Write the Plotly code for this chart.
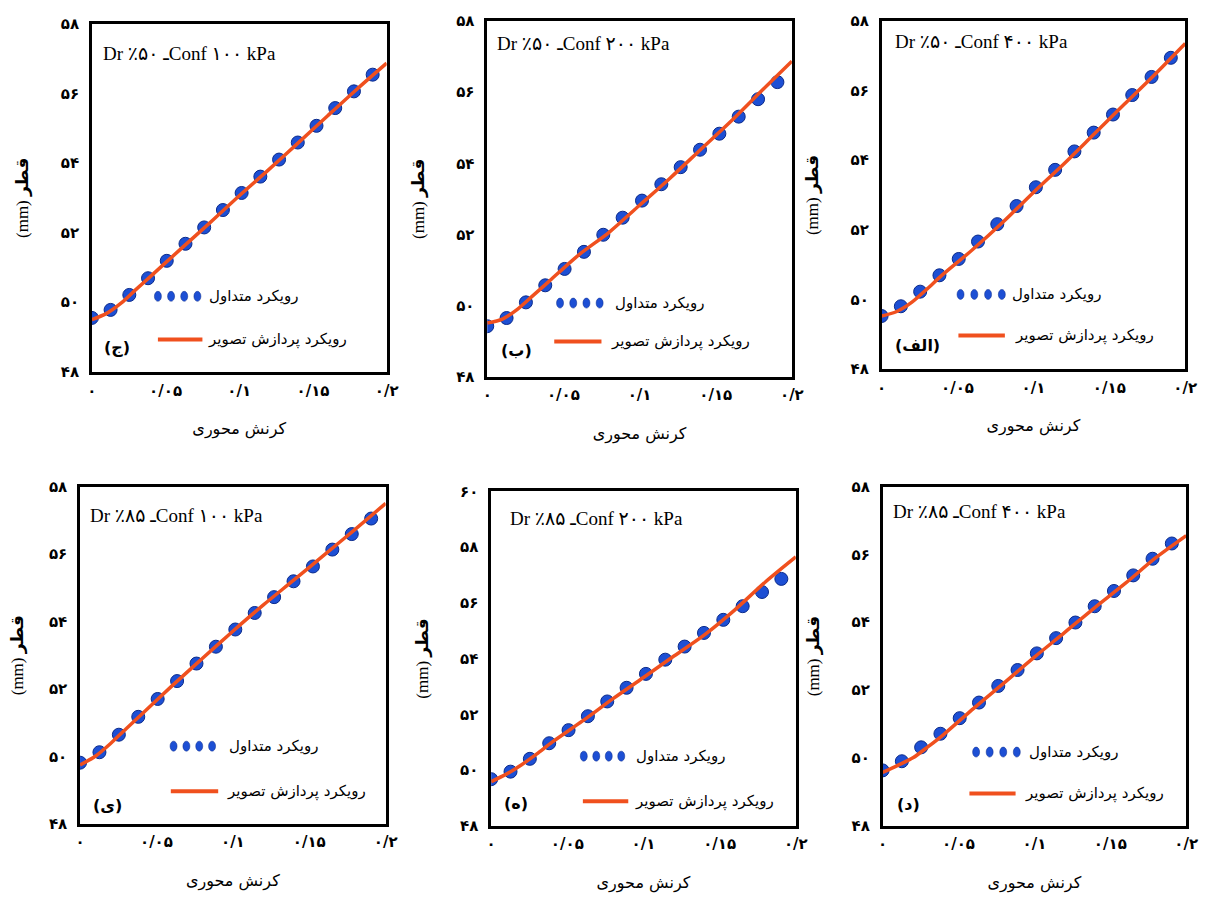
import plotly.graph_objects as go

# ---------------- data ----------------
strain = [0.0, 0.0127, 0.0254, 0.0381, 0.0508, 0.0635, 0.0762, 0.0889,
          0.1016, 0.1143, 0.1270, 0.1397, 0.1524, 0.1651, 0.1778, 0.1905]
line_strain = [0.0, 0.01, 0.02, 0.03, 0.04, 0.06, 0.08, 0.10, 0.12, 0.14, 0.16, 0.18, 0.20]

conv_50_100 = [49.55, 49.78, 50.21, 50.69, 51.19, 51.68, 52.15, 52.65, 53.14, 53.61, 54.10, 54.59, 55.07, 55.58, 56.06, 56.54]
img_50_100 = [49.50, 49.68, 49.98, 50.37, 50.75, 51.52, 52.28, 53.06, 53.81, 54.58, 55.36, 56.13, 56.87]

conv_50_200 = [49.42, 49.65, 50.09, 50.57, 51.03, 51.51, 51.99, 52.47, 52.95, 53.41, 53.89, 54.38, 54.83, 55.31, 55.80, 56.28]
img_50_200 = [49.51, 49.62, 49.90, 50.28, 50.66, 51.42, 52.06, 52.82, 53.58, 54.38, 55.18, 56.03, 56.87]

conv_50_400 = [49.52, 49.80, 50.22, 50.69, 51.16, 51.66, 52.16, 52.68, 53.22, 53.72, 54.25, 54.79, 55.31, 55.87, 56.39, 56.94]
img_50_400 = [49.52, 49.65, 49.92, 50.30, 50.70, 51.43, 52.22, 53.07, 53.89, 54.75, 55.61, 56.46, 57.35]

conv_85_100 = [49.81, 50.12, 50.64, 51.17, 51.70, 52.23, 52.75, 53.25, 53.76, 54.25, 54.72, 55.19, 55.63, 56.13, 56.59, 57.05]
img_85_100 = [49.74, 50.00, 50.38, 50.81, 51.23, 52.08, 52.90, 53.71, 54.49, 55.23, 55.98, 56.73, 57.50]

conv_85_200 = [49.67, 49.94, 50.40, 50.96, 51.43, 51.93, 52.46, 52.95, 53.45, 53.96, 54.43, 54.92, 55.39, 55.88, 56.39, 56.86]
img_85_200 = [49.58, 49.85, 50.19, 50.58, 51.00, 51.76, 52.56, 53.32, 54.09, 54.85, 55.75, 56.75, 57.65]

conv_85_400 = [49.63, 49.90, 50.31, 50.71, 51.17, 51.63, 52.12, 52.59, 53.08, 53.53, 53.99, 54.47, 54.92, 55.38, 55.87, 56.32]
img_85_400 = [49.57, 49.78, 50.00, 50.33, 50.68, 51.46, 52.21, 52.97, 53.70, 54.44, 55.15, 55.90, 56.55]

panel_titles = ["Dr ٪۵۰ ـConf ۱۰۰ kPa", "Dr ٪۵۰ ـConf ۲۰۰ kPa", "Dr ٪۵۰ ـConf ۴۰۰ kPa",
                "Dr ٪۸۵ ـConf ۱۰۰ kPa", "Dr ٪۸۵ ـConf ۲۰۰ kPa", "Dr ٪۸۵ ـConf ۴۰۰ kPa"]
panel_letters = ["(ج)", "(ب)", "(الف)", "(ی)", "(ه)", "(د)"]
conv_series = [conv_50_100, conv_50_200, conv_50_400, conv_85_100, conv_85_200, conv_85_400]
img_series = [img_50_100, img_50_200, img_50_400, img_85_100, img_85_200, img_85_400]

x_tickvals = [0, 0.05, 0.1, 0.15, 0.2]
x_ticktext = ["۰", "۰/۰۵", "۰/۱", "۰/۱۵", "۰/۲"]
y_tickvals_58 = [48, 50, 52, 54, 56, 58]
y_ticktext_58 = ["۴۸", "۵۰", "۵۲", "۵۴", "۵۶", "۵۸"]
y_tickvals_60 = [48, 50, 52, 54, 56, 58, 60]
y_ticktext_60 = ["۴۸", "۵۰", "۵۲", "۵۴", "۵۶", "۵۸", "۶۰"]

x_title = "کرنش محوری"
y_title = "(mm) <b>قطر</b>"
legend_conv = "رویکرد متداول"
legend_img = "رویکرد پردازش تصویر"

# ---------------- layout constants (pixels) ----------------
W, H = 1207, 910
OFF = 8  # default page body margin
# box: left, right, top, bottom ; legend positions in domain fractions
panels = [
    dict(box=(88, 387, 15, 370), yr=(48, 58), title=(0.03, 0.915),
         dots=(0.224, 0.358, 0.217), txt1=0.391, line=(0.224, 0.375, 0.093), txt2=0.388, lab=(0.033, 0.07)),
    dict(box=(489, 798, 12, 375), yr=(48, 58), title=(0.026, 0.937),
         dots=(0.239, 0.369, 0.207), txt1=0.414, line=(0.220, 0.375, 0.099), txt2=0.401, lab=(0.039, 0.074)),
    dict(box=(889, 1197, 12, 367), yr=(48, 58), title=(0.039, 0.941),
         dots=(0.260, 0.396, 0.214), txt1=0.422, line=(0.253, 0.406, 0.096), txt2=0.432, lab=(0.036, 0.068)),
    dict(box=(76, 386, 487, 831), yr=(48, 58), title=(0.026, 0.913),
         dots=(0.306, 0.432, 0.230), txt1=0.481, line=(0.297, 0.452, 0.096), txt2=0.474, lab=(0.035, 0.055)),
    dict(box=(493, 802, 492, 833), yr=(48, 60), title=(0.055, 0.918),
         dots=(0.304, 0.427, 0.208), txt1=0.469, line=(0.301, 0.450, 0.073), txt2=0.466, lab=(0.036, 0.065)),
    dict(box=(890, 1198, 487, 833), yr=(48, 58), title=(0.029, 0.925),
         dots=(0.308, 0.442, 0.217), txt1=0.477, line=(0.286, 0.438, 0.095), txt2=0.461, lab=(0.042, 0.061)),
]

BLUE = "#1d4fd4"
BLUE_EDGE = "#0a2a8a"
RED = "#f0501e"
PFONT = "DejaVu Sans, Noto Sans, sans-serif"
SFONT = "Liberation Serif, Times New Roman, DejaVu Sans, serif"

fig = go.Figure()
layout = dict(width=W, height=H, margin=dict(l=0, r=0, t=0, b=0),
              paper_bgcolor="white", plot_bgcolor="white", showlegend=False)
annotations = []
shapes = []

for i, p in enumerate(panels):
    sfx = "" if i == 0 else str(i + 1)
    xa, ya = "x" + sfx, "y" + sfx
    l, r, t, b = p["box"]

    fig.add_trace(go.Scatter(
        x=strain, y=conv_series[i], mode="markers", xaxis=xa, yaxis=ya,
        marker=dict(symbol="circle", size=13, color=BLUE, line=dict(color=BLUE_EDGE, width=1)),
        name=legend_conv))
    fig.add_trace(go.Scatter(
        x=line_strain, y=img_series[i], mode="lines", xaxis=xa, yaxis=ya,
        line=dict(color=RED, width=3.5, shape="spline", smoothing=0.8),
        name=legend_img))

    if p["yr"][1] == 60:
        yv, yt = y_tickvals_60, y_ticktext_60
    else:
        yv, yt = y_tickvals_58, y_ticktext_58

    layout["xaxis" + sfx] = dict(
        domain=[(l - OFF) / W, (r - OFF) / W], range=[0, 0.2], anchor=ya,
        tickvals=x_tickvals, ticktext=["<b>" + s + "</b>" for s in x_ticktext],
        tickfont=dict(family=PFONT, size=15, color="black"),
        ticks="outside", ticklen=3, tickcolor="rgba(0,0,0,0)",
        showline=True, mirror=True, linecolor="black", linewidth=2.5,
        showgrid=False, zeroline=False,
        title=dict(text=x_title, font=dict(family=PFONT, size=16, color="black"), standoff=25))
    layout["yaxis" + sfx] = dict(
        domain=[1 - (b - OFF) / H, 1 - (t - OFF) / H], range=list(p["yr"]), anchor=xa,
        tickvals=yv, ticktext=["<b>" + s + "</b>" for s in yt],
        tickfont=dict(family=PFONT, size=15, color="black"),
        ticks="outside", ticklen=7, tickcolor="rgba(0,0,0,0)",
        showline=True, mirror=True, linecolor="black", linewidth=2.5,
        showgrid=False, zeroline=False,
        title=dict(text=y_title, font=dict(family=SFONT, size=17, color="black"), standoff=28))

    xd, yd = xa + " domain", ya + " domain"
    # panel title
    annotations.append(dict(xref=xd, yref=yd, x=p["title"][0], y=p["title"][1],
                            xanchor="left", yanchor="middle", showarrow=False,
                            text=panel_titles[i], font=dict(family=SFONT, size=19, color="black")))
    # legend: dots
    dx0, dx1, dy = p["dots"]
    for k in range(4):
        cx = dx0 + (dx1 - dx0) * k / 3
        shapes.append(dict(type="circle", xref=xd, yref=yd, xsizemode="pixel", ysizemode="pixel",
                           xanchor=cx, yanchor=dy, x0=-3.5, x1=3.5, y0=-5, y1=5,
                           fillcolor=BLUE, line=dict(color=BLUE_EDGE, width=0.5)))
    annotations.append(dict(xref=xd, yref=yd, x=p["txt1"], y=dy, xanchor="left", yanchor="middle",
                            showarrow=False, text=legend_conv,
                            font=dict(family=PFONT, size=15, color="black")))
    # legend: line
    lx0, lx1, ly = p["line"]
    shapes.append(dict(type="line", xref=xd, yref=yd, x0=lx0, x1=lx1, y0=ly, y1=ly,
                       line=dict(color=RED, width=4)))
    annotations.append(dict(xref=xd, yref=yd, x=p["txt2"], y=ly, xanchor="left", yanchor="middle",
                            showarrow=False, text=legend_img,
                            font=dict(family=PFONT, size=15, color="black")))
    # panel letter
    annotations.append(dict(xref=xd, yref=yd, x=p["lab"][0], y=p["lab"][1], xanchor="left",
                            yanchor="middle", showarrow=False, text="<b>" + panel_letters[i] + "</b>",
                            font=dict(family=PFONT, size=16, color="black")))

layout["annotations"] = annotations
layout["shapes"] = shapes
fig.update_layout(**layout)
fig.write_html("out.html")
